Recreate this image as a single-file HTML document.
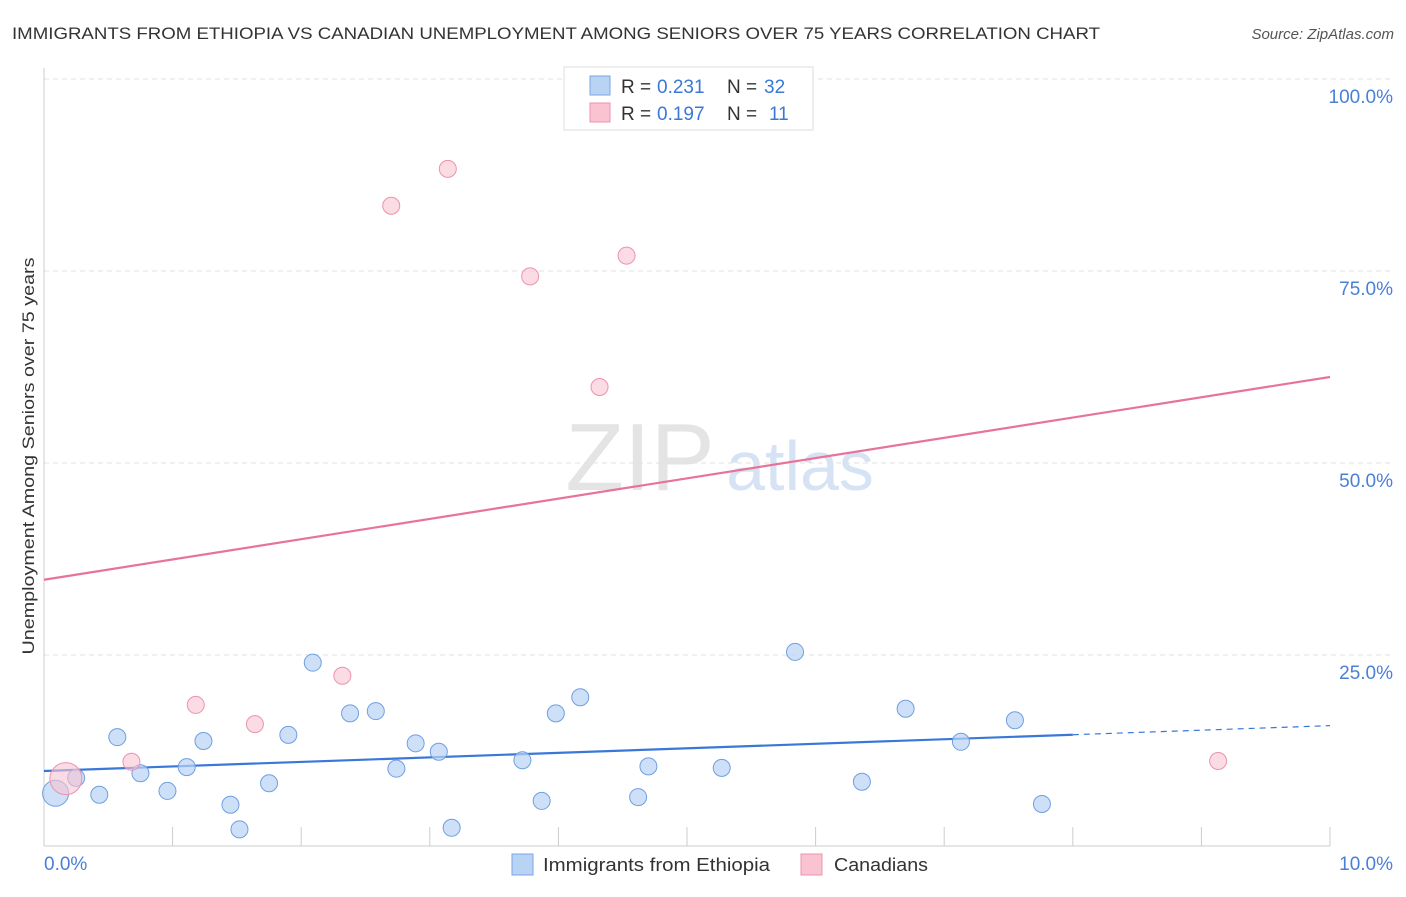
<!DOCTYPE html>
<html><head><meta charset="utf-8"><style>
body{margin:0;background:#fff;font-family:"Liberation Sans",sans-serif;}
svg text{font-family:"Liberation Sans",sans-serif;}
</style></head><body>
<svg id="chart" width="1406" height="892" viewBox="0 0 1406 892" xmlns="http://www.w3.org/2000/svg">
<text x="12" y="39" font-size="17" fill="#333" textLength="1088" lengthAdjust="spacingAndGlyphs">IMMIGRANTS FROM ETHIOPIA VS CANADIAN UNEMPLOYMENT AMONG SENIORS OVER 75 YEARS CORRELATION CHART</text>
<text x="1394" y="39" font-size="15" fill="#555" font-style="italic" text-anchor="end">Source: ZipAtlas.com</text>
<text x="640" y="490" font-size="96" fill="#e4e4e4" font-family="Liberation Serif" text-anchor="middle">ZIP</text>
<text x="800" y="490" font-size="70" fill="#d6e3f5" text-anchor="middle">atlas</text>
<text transform="translate(34,456) rotate(-90)" font-size="17" fill="#333" text-anchor="middle" textLength="397" lengthAdjust="spacingAndGlyphs">Unemployment Among Seniors over 75 years</text>
<g id="grid"></g><g id="trend"></g><g id="pts"></g>
<g>
<rect x="564" y="67" width="249" height="63" fill="#fff" stroke="#ddd"/>
<rect x="590" y="76" width="20" height="19" fill="#b9d3f5" stroke="#7aa6e3"/>
<rect x="590" y="103" width="20" height="19" fill="#f9c3d2" stroke="#ec93ad"/>
<text x="621" y="93" font-size="19" fill="#333">R =</text>
<text x="657" y="93" font-size="19" fill="#3a78d8">0.231</text>
<text x="727" y="93" font-size="19" fill="#333">N =</text>
<text x="764" y="93" font-size="19" fill="#3a78d8">32</text>
<text x="621" y="120" font-size="19" fill="#333">R =</text>
<text x="657" y="120" font-size="19" fill="#3a78d8">0.197</text>
<text x="727" y="120" font-size="19" fill="#333">N =</text>
<text x="769" y="120" font-size="19" fill="#3a78d8">11</text>
</g>
<g>
<rect x="512" y="854" width="21" height="21" fill="#b9d3f5" stroke="#7aa6e3"/>
<text x="543" y="871" font-size="18" fill="#333" textLength="227" lengthAdjust="spacingAndGlyphs">Immigrants from Ethiopia</text>
<rect x="801" y="854" width="21" height="21" fill="#f9c3d2" stroke="#ec93ad"/>
<text x="834" y="871" font-size="18" fill="#333" textLength="94" lengthAdjust="spacingAndGlyphs">Canadians</text>
</g>
</svg>
<script>
const blueX=[0.09,0.25,0.43,0.57,0.75,0.96,1.11,1.24,1.45,1.52,1.75,1.90,2.09,2.38,2.58,2.74,2.89,3.07,3.17,3.72,3.87,3.98,4.17,4.62,4.70,5.27,5.84,6.36,6.70,7.13,7.55,7.76];
const blueY=[7.0,9.0,6.8,14.3,9.6,7.3,10.4,13.8,5.5,2.3,8.3,14.6,24.0,17.4,17.7,10.2,13.5,12.4,2.5,11.3,6.0,17.4,19.5,6.5,10.5,10.3,25.4,8.5,18.0,13.7,16.5,5.6];
const pinkX=[0.17,0.68,1.18,1.64,2.32,2.70,3.14,3.78,4.32,4.53,9.13];
const pinkY=[8.9,11.1,18.5,16.0,22.3,83.5,88.3,74.3,59.9,77.0,11.2];
const yTicks=[25,50,75,100];
const yTickLabels=["25.0%","50.0%","75.0%","100.0%"];
const blueTrend=[9.9,15.8]; const blueSolidEnd=8.0;
const pinkTrend=[34.8,61.2];
const sx=v=>44+v*128.6, sy=v=>847-v*7.68;
const NS="http://www.w3.org/2000/svg";
function mk(parent,tag,at){const e=document.createElementNS(NS,tag);for(const k in at)e.setAttribute(k,at[k]);document.getElementById(parent).appendChild(e);return e;}
let e;
yTicks.forEach((t,i)=>{
 e=mk('grid','line',{x1:44,x2:1394,y1:sy(t),y2:sy(t),stroke:'#e2e2e2','stroke-dasharray':'5,4'});
 
 
 e=mk('grid','text',{x:1393,y:sy(t)+24,'font-size':19,fill:'#4a7fd6','text-anchor':'end'});e.textContent=yTickLabels[i];
 
 
});
e=mk('grid','line',{x1:44,x2:44,y1:68,y2:846,stroke:'#ccc'});


e=mk('grid','line',{x1:44,x2:1330,y1:846,y2:846,stroke:'#ccc'});


for(let i=0;i<=10;i++){e=mk('grid','line',{x1:sx(i),x2:sx(i),y1:i==0?846:827,y2:846,stroke:'#ccc'});
 
 }
e=mk('grid','text',{x:44,y:870,'font-size':19,fill:'#4a7fd6'});e.textContent='0.0%';


e=mk('grid','text',{x:1393,y:870,'font-size':19,fill:'#4a7fd6','text-anchor':'end'});e.textContent='10.0%';


const bAt=x=>blueTrend[0]+(blueTrend[1]-blueTrend[0])*x/10;
e=mk('trend','line',{x1:sx(0),y1:sy(bAt(0)),x2:sx(blueSolidEnd),y2:sy(bAt(blueSolidEnd)),stroke:'#3a78d8','stroke-width':2.2});


e=mk('trend','line',{x1:sx(blueSolidEnd),y1:sy(bAt(blueSolidEnd)),x2:sx(10),y2:sy(bAt(10)),stroke:'#3a78d8','stroke-width':1.2,'stroke-dasharray':'6,5'});


e=mk('trend','line',{x1:sx(0),y1:sy(pinkTrend[0]),x2:sx(10),y2:sy(pinkTrend[1]),stroke:'#e8739a','stroke-width':2.2});


blueX.forEach((x,i)=>{e=mk('pts','circle',{cx:sx(x),cy:sy(blueY[i]),r:i==0?13:8.5,fill:'#b9d3f5','fill-opacity':0.7,stroke:'#6f9fe0','stroke-width':1});
 
 });
pinkX.forEach((x,i)=>{e=mk('pts','circle',{cx:sx(x),cy:sy(pinkY[i]),r:i==0?16:8.5,fill:'#f9c3d2','fill-opacity':0.6,stroke:'#ec93ad','stroke-width':1});
 
 });
</script>
</body></html>
